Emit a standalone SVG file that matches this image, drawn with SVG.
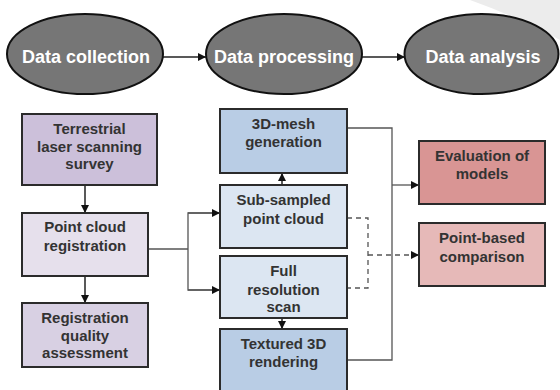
<svg xmlns="http://www.w3.org/2000/svg" width="560" height="390" viewBox="0 0 560 390">
  <style>
    .stage { fill: #767676; stroke: #111; stroke-width: 2; }
    .stage-label { font-family: "Liberation Sans", Arial, sans-serif; font-weight: bold; font-size: 18px; fill: #fff; text-anchor: middle; }
    .box { stroke: #2b2b2b; stroke-width: 2; }
    .label { font-family: "Liberation Sans", Arial, sans-serif; font-weight: bold; font-size: 15px; fill: #333; text-anchor: middle; }
    .link { fill: none; stroke: #555; stroke-width: 1.3; }
    .dashed { stroke-dasharray: 5 4; }
    .flow { fill: none; stroke: #222; stroke-width: 1.5; }
  </style>
  <defs>
    <marker id="head" viewBox="0 0 10 10" refX="10" refY="5" markerWidth="8" markerHeight="8" markerUnits="userSpaceOnUse" orient="auto">
      <path d="M0,0 L10,5 L0,10 Z" fill="#111"/>
    </marker>
  </defs>

  <rect width="560" height="390" fill="#fff"/>
  <!-- background swoosh, top right -->
  <path d="M470,0 L560,0 L560,40 Q520,18 470,0 Z" fill="#ececec"/>

  <!-- connectors -->
  <g id="connectors">
    <line class="flow" x1="163" y1="57" x2="206" y2="57" marker-end="url(#head)"/>
    <line class="flow" x1="362" y1="57" x2="405" y2="57" marker-end="url(#head)"/>

    <line class="flow" x1="85" y1="185" x2="85" y2="213" marker-end="url(#head)"/>
    <line class="flow" x1="85" y1="276" x2="85" y2="303" marker-end="url(#head)"/>

    <polyline class="link" points="148,249 188,249"/>
    <polyline class="link" points="220,213 188,213 188,290 220,290"/>
    <line class="link" x1="188" y1="213" x2="220" y2="213" marker-end="url(#head)"/>
    <line class="link" x1="188" y1="290" x2="220" y2="290" marker-end="url(#head)"/>

    <line class="flow" x1="282" y1="185" x2="282" y2="173" marker-end="url(#head)"/>
    <line class="flow" x1="282" y1="318" x2="282" y2="329" marker-end="url(#head)"/>

    <polyline class="link" points="347,128 392,128 392,360 347,360"/>
    <line class="link" x1="392" y1="185" x2="419" y2="185" marker-end="url(#head)"/>

    <polyline class="link dashed" points="347,218 368,218 368,288 347,288"/>
    <line class="link dashed" x1="368" y1="255" x2="419" y2="255" marker-end="url(#head)"/>
  </g>

  <!-- stages -->
  <g id="stage-collection">
    <ellipse class="stage" cx="85" cy="54" rx="78" ry="40"/>
    <text class="stage-label" x="86" y="63">Data collection</text>
  </g>
  <g id="stage-processing">
    <ellipse class="stage" cx="284" cy="54" rx="78" ry="40"/>
    <text class="stage-label" x="284" y="63">Data processing</text>
  </g>
  <g id="stage-analysis">
    <ellipse class="stage" cx="481.5" cy="54" rx="77" ry="40"/>
    <text class="stage-label" x="483" y="63">Data analysis</text>
  </g>

  <!-- data collection column -->
  <g id="tls-survey">
    <rect class="box" x="22" y="114" width="135" height="71" fill="#ccc0da"/>
    <text class="label" x="89.5" y="134">Terrestrial</text>
    <text class="label" x="89.5" y="152">laser scanning</text>
    <text class="label" x="89.5" y="169">survey</text>
  </g>
  <g id="registration">
    <rect class="box" x="22" y="213" width="126" height="63" fill="#e6e0ec"/>
    <text class="label" x="85" y="232">Point cloud</text>
    <text class="label" x="85" y="251">registration</text>
  </g>
  <g id="registration-quality">
    <rect class="box" x="22" y="303" width="126" height="64" fill="#d8d0e3"/>
    <text class="label" x="85" y="323">Registration</text>
    <text class="label" x="85" y="341">quality</text>
    <text class="label" x="85" y="358">assessment</text>
  </g>

  <!-- data processing column -->
  <g id="mesh-generation">
    <rect class="box" x="220" y="109" width="127" height="64" fill="#b9cde5"/>
    <text class="label" x="283.5" y="129">3D-mesh</text>
    <text class="label" x="283.5" y="147">generation</text>
  </g>
  <g id="subsampled-cloud">
    <rect class="box" x="220" y="185" width="127" height="63" fill="#dce6f2"/>
    <text class="label" x="283.5" y="205">Sub-sampled</text>
    <text class="label" x="283.5" y="224">point cloud</text>
  </g>
  <g id="full-resolution">
    <rect class="box" x="220" y="256" width="127" height="62" fill="#dce6f2"/>
    <text class="label" x="283.5" y="276">Full</text>
    <text class="label" x="283.5" y="295">resolution</text>
    <text class="label" x="283.5" y="312">scan</text>
  </g>
  <g id="textured-rendering">
    <rect class="box" x="220" y="329" width="127" height="70" fill="#b9cde5"/>
    <text class="label" x="283.5" y="349">Textured 3D</text>
    <text class="label" x="283.5" y="367">rendering</text>
  </g>

  <!-- data analysis column -->
  <g id="model-evaluation">
    <rect class="box" x="419" y="141" width="126" height="63" fill="#d99594"/>
    <text class="label" x="482" y="161">Evaluation of</text>
    <text class="label" x="482" y="179">models</text>
  </g>
  <g id="point-comparison">
    <rect class="box" x="419" y="223" width="126" height="63" fill="#e6b9b8"/>
    <text class="label" x="482" y="243">Point-based</text>
    <text class="label" x="482" y="262">comparison</text>
  </g>
</svg>
